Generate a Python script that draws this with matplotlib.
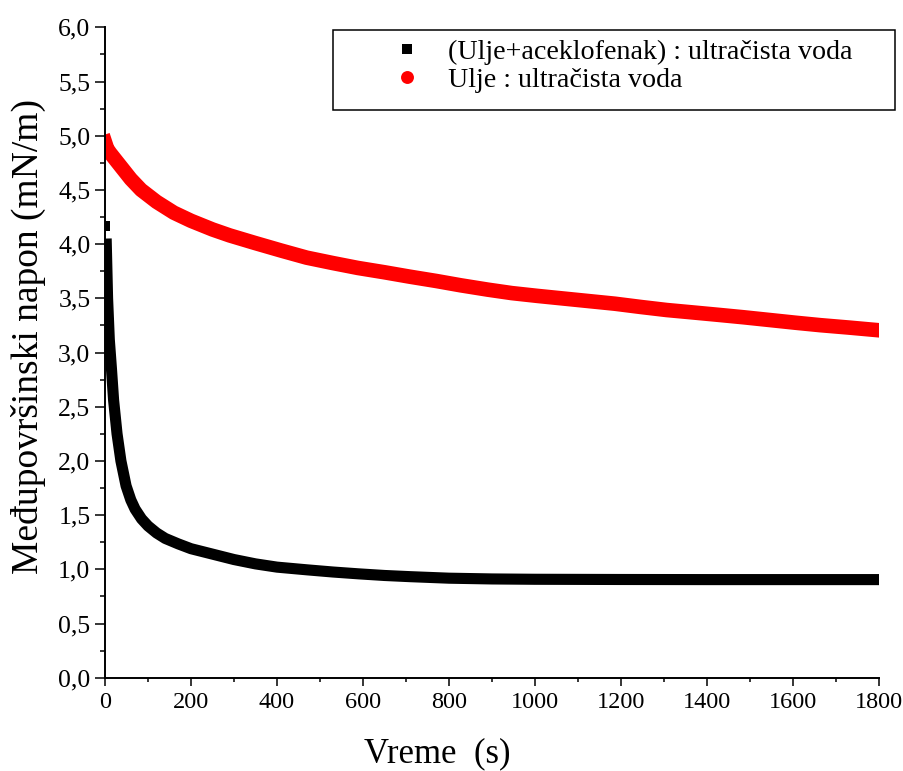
import matplotlib
matplotlib.use("Agg")
import matplotlib.pyplot as plt
from matplotlib.lines import Line2D
from matplotlib.patches import Rectangle
from matplotlib.ticker import MultipleLocator, FuncFormatter

plt.rcParams['font.family'] = ['Liberation Serif', 'DejaVu Serif']

# ---- data ----
t_black = [1, 3, 6, 10, 15, 20, 28, 37, 49, 60, 70, 85, 100, 120, 140, 170, 200, 230,
           300, 350, 400, 470, 530, 590, 650, 710, 800, 900, 1000, 1200, 1400, 1600, 1800]
v_black = [4.17, 4.00, 3.50, 3.12, 2.85, 2.56, 2.25, 2.00, 1.77, 1.64, 1.555, 1.465,
           1.40, 1.335, 1.285, 1.235, 1.19, 1.16, 1.09, 1.05, 1.02, 0.995, 0.975,
           0.958, 0.943, 0.932, 0.918, 0.911, 0.908, 0.906, 0.905, 0.905, 0.905]

t_red = [0, 5, 12, 27, 43, 60, 84, 120, 160, 200, 250, 290, 349, 410, 469, 530, 588, 650,
         708, 770, 827, 890, 946, 1006, 1066, 1126, 1186, 1246, 1306, 1366, 1425,
         1485, 1545, 1605, 1664, 1730, 1800]
v_red = [4.94, 4.88, 4.84, 4.765, 4.685, 4.60, 4.50, 4.39, 4.29, 4.215, 4.135, 4.08,
         4.01, 3.94, 3.875, 3.825, 3.78, 3.74, 3.70, 3.66, 3.62, 3.58, 3.548, 3.522,
         3.498, 3.474, 3.45, 3.42, 3.392, 3.37, 3.348, 3.325, 3.30, 3.275, 3.252,
         3.23, 3.205]

label_black = "(Ulje+aceklofenak) : ultračista voda"
label_red = "Ulje : ultračista voda"
xlabel = "Vreme  (s)"
ylabel = "Međupovršinski napon (mN/m)"

W, H = 904, 771
fig = plt.figure(figsize=(W / 100, H / 100), dpi=100)
ax = fig.add_axes([105 / W, 1 - 677.7 / H, (879 - 105) / W, (677.7 - 27.3) / H])

# black series: isolated first point + dense band
ax.plot(t_black[:1], v_black[:1], 's', color='black', markersize=7.5, markeredgewidth=0)
ax.plot(t_black[1:], v_black[1:], '-', color='black', lw=8.0,
        solid_capstyle='projecting', solid_joinstyle='round')
# red series
ax.plot(t_red, v_red, '-', color='#ff0000', lw=10.5,
        solid_capstyle='projecting', solid_joinstyle='round')

ax.set_xlim(0, 1800)
ax.set_ylim(0, 6.0)

for s in ['top', 'right']:
    ax.spines[s].set_visible(False)
for s in ['left', 'bottom']:
    ax.spines[s].set_linewidth(1.4)

ax.xaxis.set_major_locator(MultipleLocator(200))
ax.xaxis.set_minor_locator(MultipleLocator(100))
ax.yaxis.set_major_locator(MultipleLocator(0.5))
ax.yaxis.set_minor_locator(MultipleLocator(0.25))
ax.yaxis.set_major_formatter(FuncFormatter(lambda v, p: f"{v:.1f}".replace('.', ',')))
ax.xaxis.set_major_formatter(FuncFormatter(lambda v, p: f"{int(round(v))}"))

ax.tick_params(axis='y', which='major', direction='out', length=7, width=1.1,
               labelsize=18.5, pad=3.5)
ax.tick_params(axis='y', which='minor', direction='out', length=3.5, width=1.1)
ax.tick_params(axis='x', which='major', direction='out', length=6, width=1.1,
               labelsize=17.5, pad=4.5)
ax.tick_params(axis='x', which='minor', direction='out', length=3, width=1.1)

ax.set_xlabel(xlabel, fontsize=25)
ax.set_ylabel(ylabel, fontsize=27)
ax.yaxis.set_label_coords(-0.076, 0.524)
ax.xaxis.set_label_coords(0.429, -0.092)

# legend
handles = [Line2D([], [], marker='s', ls='none', color='black', markersize=7.8,
                  markeredgewidth=0),
           Line2D([], [], marker='o', ls='none', color='#ff0000', markersize=9.3,
                  markeredgewidth=0)]
fig.legend(handles, [label_black, label_red], loc='upper left',
           bbox_to_anchor=(393.5 / W, 1 - 39 / H), bbox_transform=fig.transFigure,
           frameon=False, fontsize=20.2, borderpad=0, borderaxespad=0,
           handlelength=0.97, handletextpad=0.97, labelspacing=0.08)
fig.patches.append(Rectangle((333 / W, 1 - 110 / H), 562 / W, 80 / H,
                             transform=fig.transFigure, fill=False,
                             edgecolor='black', lw=1.1))

fig.savefig("out.png", dpi=100)
